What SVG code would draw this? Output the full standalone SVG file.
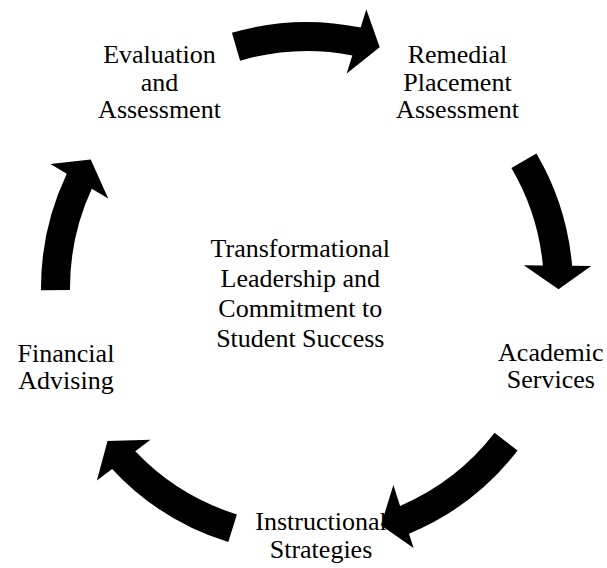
<svg xmlns="http://www.w3.org/2000/svg" width="607" height="568" viewBox="0 0 607 568">
  <style>
    .lbl { font-family: "Liberation Serif", "Times New Roman", serif; font-size: 26px; fill: #000; text-anchor: middle; }
    .arrow { fill: #000; stroke: none; }
  </style>
  <rect width="607" height="568" fill="#fff"/>

  <!-- curved cycle arrows on a ring centred at (307,288), inner r 237, outer r 266 -->
  <g id="connectors">
    <path class="arrow" d="M231.9,32.8 A266,266 0 0 1 360.7,27.5 L366.3,9.2 L379.7,47.2 L346.7,73.6 L352.3,55.4 A237,237 0 0 0 240.1,60.7 Z"/>
    <path class="arrow" d="M536.4,153.4 A266,266 0 0 1 572.1,265.8 L591.2,266.1 L558.5,289.3 L523.8,265.2 L542.9,265.5 A237,237 0 0 0 511.4,168.1 Z"/>
    <path class="arrow" d="M517.6,450.6 A266,266 0 0 1 409.0,533.7 L413.6,548.0 L380.9,525.3 L393.4,484.9 L400.1,505.9 A237,237 0 0 0 494.6,432.8 Z"/>
    <path class="arrow" d="M228.3,542.1 A266,266 0 0 1 112.1,468.9 L96.9,480.5 L107.5,441.1 L150.5,439.7 L135.3,451.3 A237,237 0 0 0 236.9,514.4 Z"/>
    <path class="arrow" d="M41.0,290.3 A266,266 0 0 1 66.8,173.8 L50.4,164.0 L90.7,159.6 L108.2,198.6 L91.8,188.8 A237,237 0 0 0 70.0,290.1 Z"/>
  </g>

  <g id="evaluation">
    <text class="lbl" x="159.5" y="63.3">Evaluation</text>
    <text class="lbl" x="159.5" y="90.7">and</text>
    <text class="lbl" x="159.5" y="118.3">Assessment</text>
  </g>

  <g id="remedial">
    <text class="lbl" x="457.5" y="63.3">Remedial</text>
    <text class="lbl" x="457.5" y="90.5">Placement</text>
    <text class="lbl" x="457.5" y="117.6">Assessment</text>
  </g>

  <g id="academic">
    <text class="lbl" x="550.8" y="361">Academic</text>
    <text class="lbl" x="550.8" y="388.3">Services</text>
  </g>

  <g id="instructional">
    <text class="lbl" x="321" y="530">Instructional</text>
    <text class="lbl" x="321" y="557.5">Strategies</text>
  </g>

  <g id="financial">
    <text class="lbl" x="66" y="361.7">Financial</text>
    <text class="lbl" x="66" y="389">Advising</text>
  </g>

  <g id="core">
    <text class="lbl" x="300.3" y="257.3">Transformational</text>
    <text class="lbl" x="300.3" y="287.1">Leadership and</text>
    <text class="lbl" x="300.3" y="316.9">Commitment to</text>
    <text class="lbl" x="300.3" y="346.7">Student Success</text>
  </g>
</svg>
